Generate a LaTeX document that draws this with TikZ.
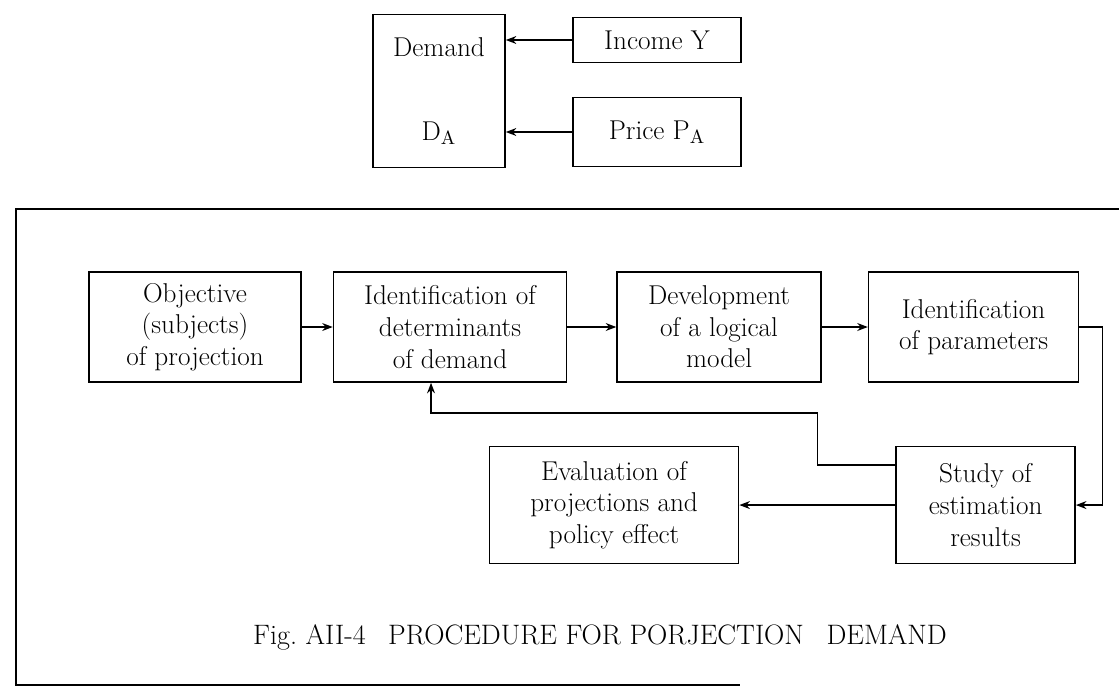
\documentclass[tikz,border=0pt]{standalone}
\usepackage{tikz}
\usetikzlibrary{arrows.meta, positioning}

\begin{document}
\begin{tikzpicture}[x=0.02cm, y=-0.02cm, node distance=0.8cm,
    box/.style={draw, line width=0.9pt, align=center, inner sep=2pt},
    arr/.style={-{Stealth[length=6pt, width=4.5pt]}, line width=0.9pt}]
    \fontsize{15.5}{18}\selectfont
    \useasboundingbox (0,0) rectangle (1119,694);
    % Top nodes
    \node[box, minimum width=2.64cm, minimum height=3.06cm] (dem) at (439,91) {Demand\\[1.05cm] D$_{\mathrm{A}}$};
    \node[box, minimum width=3.36cm, minimum height=0.9cm] (inc) at (657,40) {Income Y};
    \node[box, minimum width=3.36cm, minimum height=1.38cm] (price) at (657,132) {Price P$_{\mathrm{A}}$};

    % Frame
    \draw[line width=0.9pt] (1119,209) -- (16,209) -- (16,685) -- (740,685);

    % Nodes
    \node[box, minimum width=4.24cm, minimum height=2.2cm] (obj) at (195,327) {Objective\\(subjects)\\of projection};
    \node[box, right=0.62cm of obj, minimum width=4.66cm, minimum height=2.2cm] (idd) {Identification of\\determinants\\of demand};
    \node[box, right=0.98cm of idd, minimum width=4.08cm, minimum height=2.2cm] (dev) {Development\\of a logical\\model};
    \node[box, right=0.92cm of dev, minimum width=4.2cm, minimum height=2.2cm] (ipar) {Identification\\of parameters};
    \node[box, below=1.26cm of ipar, xshift=0.24cm, minimum width=3.58cm, minimum height=2.34cm] (study) {Study of\\estimation\\results};
    \node[box, left=3.12cm of study, minimum width=4.98cm, minimum height=2.34cm] (eval) {Evaluation of\\projections and\\policy effect};
    \node[font=\fontsize{16}{18}\selectfont] (cap) at (600,637) {Fig.~AII-4\enspace\ PROCEDURE FOR PORJECTION\enspace\ DEMAND};

    % Arrows
    \draw[arr] (inc.west) -- (inc.west -| dem.east);
    \draw[arr] (price.west) -- (price.west -| dem.east);
    \draw[arr] (obj) -- (idd);
    \draw[arr] (idd) -- (dev);
    \draw[arr] (dev) -- (ipar);
    \draw[arr] (ipar.east) -- ++(0.46cm,0cm) |- (study.east);
    \draw[arr] (study) -- (eval);
    \draw[arr] ([yshift=0.8cm]study.west) -- ++(-1.56cm,0cm) |- ([shift={(-0.38cm,-0.6cm)}]idd.south) -- ([xshift=-0.38cm]idd.south);
\end{tikzpicture}
\end{document}
